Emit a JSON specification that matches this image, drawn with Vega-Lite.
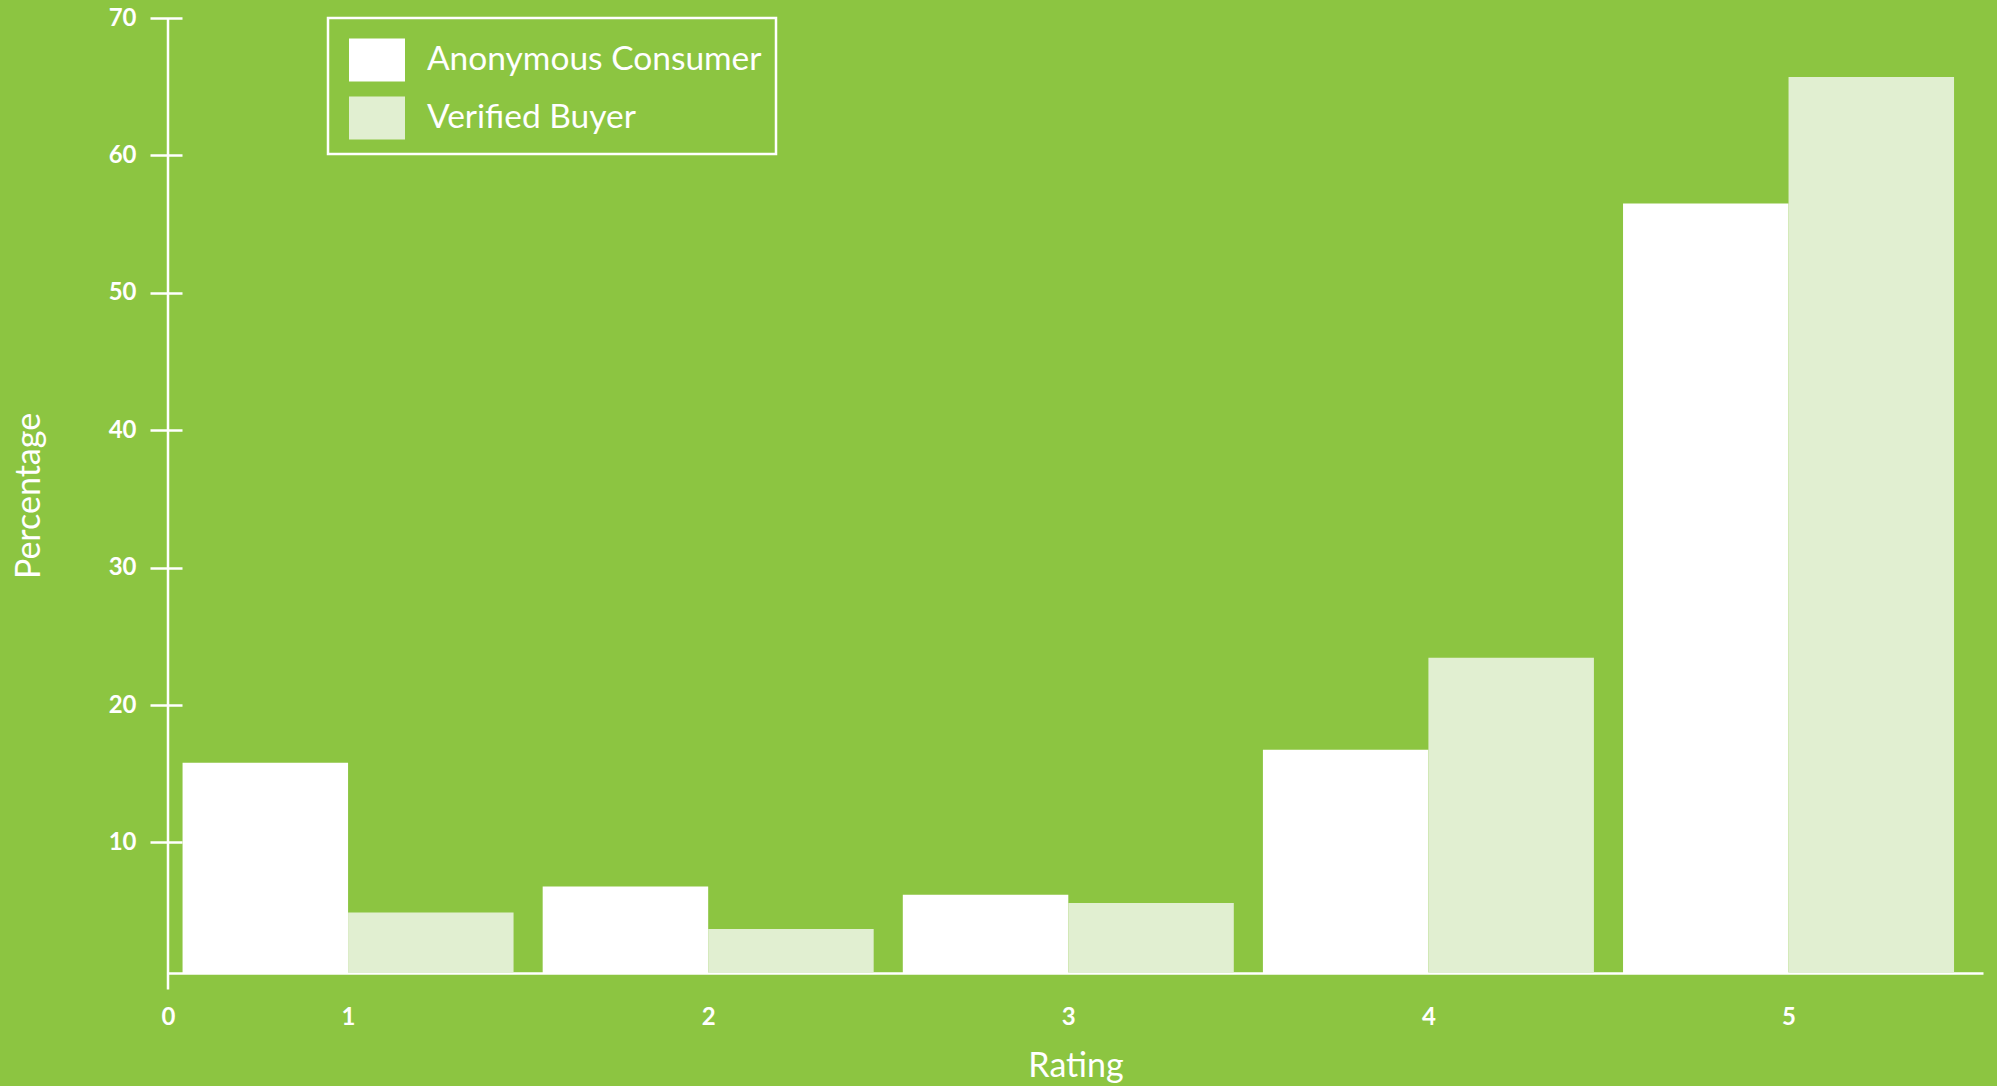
{
  "$schema": "https://vega.github.io/schema/vega-lite/v6.json",
  "autosize": "none",
  "width": 1815,
  "height": 955,
  "padding": {"left": 168, "top": 18, "right": 14, "bottom": 113},
  "background": "#8cc541",
  "config": {
    "view": {"stroke": null},
    "font": "Lato",
    "axis": {"grid": false, "labelColor": "white", "titleColor": "white", "domainColor": "white", "tickColor": "white", "labelFont": "Lato", "titleFont": "Lato"}
  },
  "data": {
    "values": [
      {"rating": 1, "series": "Anonymous Consumer", "pct": 15.8},
      {"rating": 1, "series": "Verified Buyer", "pct": 4.9},
      {"rating": 2, "series": "Anonymous Consumer", "pct": 6.8},
      {"rating": 2, "series": "Verified Buyer", "pct": 3.7},
      {"rating": 3, "series": "Anonymous Consumer", "pct": 6.2},
      {"rating": 3, "series": "Verified Buyer", "pct": 5.6},
      {"rating": 4, "series": "Anonymous Consumer", "pct": 16.75},
      {"rating": 4, "series": "Verified Buyer", "pct": 23.45},
      {"rating": 5, "series": "Anonymous Consumer", "pct": 56.5},
      {"rating": 5, "series": "Verified Buyer", "pct": 65.7}
    ]
  },
  "encoding": {
    "x": {
      "field": "rating", "type": "quantitative",
      "scale": {"domain": [0.5, 5.54], "nice": false, "zero": false, "padding": 0},
      "axis": {
        "values": [0.5, 1, 2, 3, 4, 5],
        "labelExpr": "datum.value == 0.5 ? '0' : datum.label",
        "labelFlush": false, "labelOverlap": false,
        "ticks": false, "domainWidth": 2.5,
        "labelFontSize": 24, "labelFontWeight": "bold", "labelPadding": 32,
        "title": "Rating", "titleFontSize": 34, "titleFontWeight": "normal", "titlePadding": 20
      }
    },
    "y": {
      "field": "pct", "type": "quantitative",
      "scale": {"domain": [0.5, 70], "nice": false, "zero": false, "padding": 0},
      "axis": {
        "values": [10, 20, 30, 40, 50, 60, 70],
        "domain": false, "offset": -14, "tickSize": 32, "tickWidth": 2.5,
        "labelFontSize": 24, "labelFontWeight": "bold", "labelPadding": 14,
        "title": "Percentage", "titleFontSize": 34, "titleFontWeight": "normal", "titlePadding": 62
      }
    }
  },
  "layer": [
    {
      "transform": [{"filter": "datum.series == 'Anonymous Consumer'"}],
      "mark": {"type": "bar", "width": 165.5, "xOffset": -82.75, "clip": true},
      "encoding": {
        "color": {
          "field": "series", "type": "nominal",
          "scale": {"domain": ["Anonymous Consumer", "Verified Buyer"], "range": ["#ffffff", "#e1efd1"]},
          "legend": {
            "title": null, "orient": "none", "legendX": 160, "legendY": 0,
            "padding": 14, "strokeColor": "white",
            "symbolType": "M-1,-0.768H1V0.768H-1Z", "symbolSize": 3136, "symbolStrokeWidth": 0, "symbolOpacity": 1,
            "symbolOffset": 7, "labelOffset": 22, "rowPadding": 8, "labelLimit": 600,
            "labelFontSize": 33.5, "labelColor": "white", "labelFont": "Lato",
            "encode": {"legend": {"update": {"strokeWidth": {"value": 2.5}}}}
          }
        }
      }
    },
    {
      "transform": [{"filter": "datum.series == 'Verified Buyer'"}],
      "mark": {"type": "bar", "width": 165.5, "xOffset": 82.75, "clip": true},
      "encoding": {
        "color": {"field": "series", "type": "nominal"}
      }
    },
    {
      "data": {"values": [{"axis": "y", "top": 70, "bottom": -0.7, "pos": 0.5}]},
      "mark": {"type": "rule", "color": "white", "strokeWidth": 2.5},
      "encoding": {
        "x": {"field": "pos", "type": "quantitative"},
        "y": {"field": "top", "type": "quantitative"},
        "y2": {"field": "bottom"}
      }
    }
  ]
}
